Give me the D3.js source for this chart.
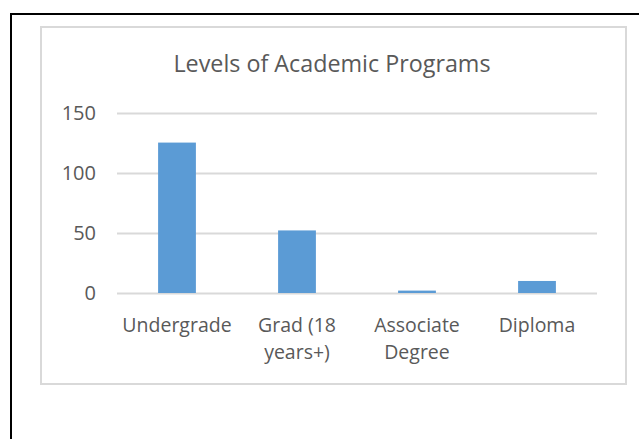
<!DOCTYPE html>
<html><head><meta charset="utf-8">
<script src="https://cdn.jsdelivr.net/npm/d3@7"></script>
<style>
html,body{margin:0;padding:0;background:#fff;}
svg{display:block;}
text{font-family:"Open Sans",sans-serif;fill:#595959;}
</style></head>
<body>
<script>
const categories = ["Undergrade", "Grad (18 years+)", "Associate Degree", "Diploma"];
const categoryLines = [["Undergrade"], ["Grad (18", "years+)"], ["Associate", "Degree"], ["Diploma"]];
const values = [125, 52, 2, 10];
const yTicks = [0, 50, 100, 150];
const title = "Levels of Academic Programs";

const W = 639, H = 439;
const svg = d3.select("body").append("svg").attr("width", W).attr("height", H);

// outer black frame
svg.append("rect").attr("x", 11).attr("y", 14).attr("width", 700).attr("height", 500)
  .attr("fill", "none").attr("stroke", "#000").attr("stroke-width", 2);
// chart area border
svg.append("rect").attr("x", 41).attr("y", 27).attr("width", 585).attr("height", 357)
  .attr("fill", "#fff").attr("stroke", "#d9d9d9").attr("stroke-width", 2);

const x = d3.scaleBand().domain(categories).range([117, 597]).paddingInner(0.685).paddingOuter(0.3425);
const y = d3.scaleLinear().domain([0, 150]).range([293, 112.5]);

// gridlines
svg.append("g").selectAll("line").data(yTicks).join("line")
  .attr("x1", 117).attr("x2", 597)
  .attr("y1", d => Math.round(y(d)) + 0.5).attr("y2", d => Math.round(y(d)) + 0.5)
  .attr("stroke", "#d9d9d9").attr("stroke-width", 2);

// y tick labels
svg.append("g").selectAll("text").data(yTicks).join("text")
  .attr("x", 96).attr("y", d => y(d)).attr("dy", "0.35em")
  .attr("text-anchor", "end").attr("font-size", 20).text(d => d);

// bars
svg.append("g").selectAll("rect").data(values).join("rect")
  .attr("x", (d, i) => x(categories[i])).attr("width", x.bandwidth())
  .attr("y", d => y(d)).attr("height", d => y(0) - y(d))
  .attr("fill", "#5b9bd5");

// x labels
const xl = svg.append("g").selectAll("text").data(categories).join("text")
  .attr("text-anchor", "middle").attr("font-size", 19.5)
  .attr("x", d => x(d) + x.bandwidth() / 2).attr("y", 332);
xl.each(function(d, i) {
  const t = d3.select(this);
  categoryLines[i].forEach((ln, j) => {
    t.append("tspan").attr("x", x(d) + x.bandwidth() / 2).attr("y", 332 + j * 27).text(ln);
  });
});

// title
svg.append("text").attr("x", 332).attr("y", 72).attr("text-anchor", "middle")
  .attr("font-size", 23.3).text(title);
</script>
</body></html>
